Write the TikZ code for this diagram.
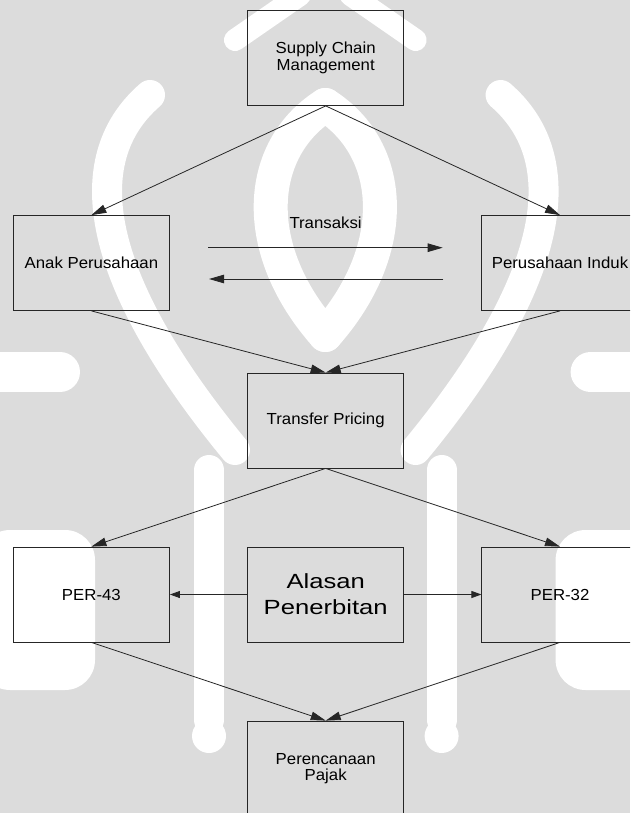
\documentclass[tikz,border=0pt]{standalone}
\usepackage{fontspec}
\setmainfont{Liberation Sans}
\newfontfamily\boxfont[FakeStretch=1.05]{Liberation Sans}
\newfontfamily\bigfont[FakeStretch=1.25]{Liberation Sans}
\usetikzlibrary{arrows.meta}
\definecolor{wmgray}{RGB}{220,220,220}

\begin{document}
\begin{tikzpicture}[x=1pt,y=-1pt,
  box/.style={draw=black!85, line width=0.8pt, minimum width=156.3pt,
    minimum height=95pt, inner sep=0pt, align=center,
    font=\boxfont\fontsize{16}{16.7}\selectfont},
  bigbox/.style={box, font=\bigfont\fontsize{20.5}{26}\selectfont},
  flow/.style={draw=black!85, line width=0.8pt,
    -{Triangle[length=15pt,width=8.5pt]}},
  side/.style={draw=black!85, line width=0.8pt,
    -{Triangle[length=10pt,width=7pt]}},
  lbl/.style={font=\boxfont\fontsize{16}{16.7}\selectfont, inner sep=0pt},
  wm/.style={draw=white, line cap=round}]

  % page area
  \useasboundingbox (0,0) rectangle (630,813);
  \clip (0,0) rectangle (630,813);

  % faint emblem in the background
  \fill[wmgray] (0,0) rectangle (630,813);
  \foreach \side in {1,-1}{
    \begin{scope}[xshift={(1-\side)*325.3pt}, xscale=\side]
      % outer arc
      \draw[wm, line width=30pt] (150,95) .. controls (75,160) and (95,280) .. (235,450);
      % inner lens
      \draw[wm, line width=34pt] (325.3,105) .. controls (255,150) and (250,250) .. (325.3,335);
      % lower stem ending in a round knob
      \draw[wm, line width=30pt] (209,470) -- (209,720);
      \fill[white] (209,736) circle (17);
      % lower outer field
      \fill[white, rounded corners=30pt] (-20,530) rectangle (95,690);
      % side wing
      \draw[wm, line width=40pt] (-20,372) -- (60,372);
      % top peak edges
      \draw[wm, line width=22pt] (300,-5) -- (235,40);
    \end{scope}
  }

  % boxes
  \node[box] (scm)    at (325.7, 58)    {Supply Chain\\Management};
  \node[box] (anak)   at (91.4, 263)    {Anak Perusahaan};
  \node[box] (induk)  at (560, 263)     {Perusahaan Induk};
  \node[box] (tp)     at (325.7, 420.5) {Transfer Pricing};
  \node[box] (per43)  at (91.4, 594.5)  {PER-43};
  \node[bigbox] (alasan) at (325.7, 594.5) {Alasan\\Penerbitan};
  \node[box] (per32)  at (560, 594.5)   {PER-32};
  \node[box] (pp)     at (325.7, 768.5) {Perencanaan\\Pajak};

  % transaction arrows between the two companies
  \node[lbl] (trans) at (325.6, 223) {Transaksi};
  \coordinate (t1) at (208, 247.7);
  \coordinate (t2) at (442.7, 247.7);
  \coordinate (t3) at (443.3, 279);
  \coordinate (t4) at (209, 279);
  \draw[flow] (t1) -- (t2);
  \draw[flow] (t3) -- (t4);

  % flow connectors
  \draw[flow] (scm.south) -- (anak.north);
  \draw[flow] (scm.south) -- (induk.north);
  \draw[flow] (anak.south) -- (tp.north);
  \draw[flow] (induk.south) -- (tp.north);
  \draw[flow] (tp.south) -- (per43.north);
  \draw[flow] (tp.south) -- (per32.north);
  \draw[side] (alasan.west) -- (per43.east);
  \draw[side] (alasan.east) -- (per32.west);
  \draw[flow] (per43.south) -- (pp.north);
  \draw[flow] (per32.south) -- (pp.north);
\end{tikzpicture}
\end{document}
